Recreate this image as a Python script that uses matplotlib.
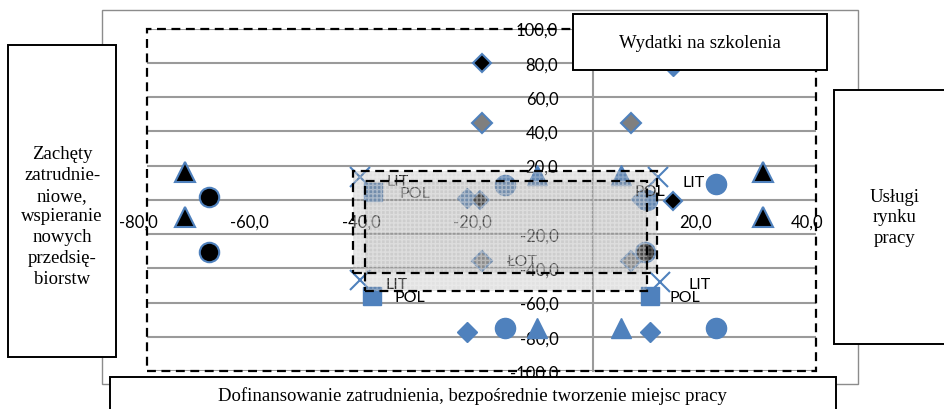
import matplotlib
matplotlib.use("Agg")
import matplotlib.pyplot as plt
from matplotlib.patches import Rectangle
from matplotlib.transforms import ScaledTranslation

# ---------------- data ----------------
xticks = [-80, -60, -40, -20, 20, 40]
xtick_labels = ["-80,0", "-60,0", "-40,0", "-20,0", "20,0", "40,0"]
yticks = [-100, -80, -60, -40, -20, 20, 40, 60, 80, 100]
ytick_labels = ["-100,0", "-80,0", "-60,0", "-40,0", "-20,0", "20,0", "40,0", "60,0", "80,0", "100,0"]

blk_dia_x = [-20.0, -20.3, 14.3]
blk_dia_y = [80.0, 0.0, -1.0]
gry_dia_x = [-20.0, 6.8, -20.0, 6.8]
gry_dia_y = [45.0, 45.0, -35.6, -35.6]
blu_dia_x = [14.3, -22.6, 8.6, -22.6, 10.2]
blu_dia_y = [78.0, 1.0, 0.5, -77.0, -77.0]
blk_cir_x = [-68.9, -68.9, 9.3]
blk_cir_y = [1.7, -30.3, -30.3]
blu_cir_x = [-15.8, 22.0, 9.6, -15.8, 22.0]
blu_cir_y = [8.7, 9.0, 0.0, -75.0, -75.0]
blk_tri_x = [-73.2, -73.2, 30.5, 30.5]
blk_tri_y = [16.3, -10.0, 16.3, -10.0]
blu_tri_x = [-10.0, 5.0, -10.0, 5.0]
blu_tri_y = [14.6, 14.6, -75.0, -75.0]
blu_sq_x = [-39.5, -39.6, 10.2]
blu_sq_y = [4.7, -56.0, -56.0]
blu_x_x = [-41.8, 11.7, -41.8, 12.0]
blu_x_y = [13.4, 13.4, -47.0, -48.0]

lbl_text = ["LIT", "POL", "POL", "LIT", "LIT", "POL", "LIT", "POL", "ŁOT"]
lbl_x = [-35.0, -32.0, 10.2, 18.0, -35.2, -32.8, 19.2, 16.5, -12.7]
lbl_y = [11.0, 4.0, 5.2, 10.5, -49.0, -56.6, -49.0, -56.6, -35.6]

# zones (x0, y0, x1, y1) in data units
zone_a = [-43.0, -43.0, 11.5, 16.9]
zone_b = [-40.9, -53.0, 9.7, 11.0]

box_texts = ["Wydatki na szkolenia",
             "Zachęty\nzatrudnie-\nniowe,\nwspieranie\nnowych\nprzedsię-\nbiorstw",
             "Usługi\nrynku\npracy",
             "Dofinansowanie zatrudnienia, bezpośrednie tworzenie miejsc pracy"]

# ---------------- figure ----------------
W, H = 944, 410
fig = plt.figure(figsize=(W / 100, H / 100), dpi=100)
fig.patch.set_facecolor("white")

def frac(x0, y0, x1, y1):
    return (x0 / W, 1 - y1 / H, (x1 - x0) / W, (y1 - y0) / H)

ax = fig.add_axes(frac(147, 29.5, 816, 372))
ax.patch.set_visible(False)
ax.set_xlim(-80, 40)
ax.set_ylim(-100, 100)
ax.set_axisbelow(True)

BLUE = "#4F81BD"
GRID = "#9a9a9a"
tick_font = dict(family=["Lato", "DejaVu Sans"], size=12)

for s in ["top", "right"]:
    ax.spines[s].set_visible(False)
ax.spines["left"].set_position(("data", 0))
ax.spines["bottom"].set_position(("data", 0))
for s in ["left", "bottom"]:
    ax.spines[s].set_color(GRID)
    ax.spines[s].set_linewidth(1.5)

ax.set_xticks(xticks)
ax.set_xticklabels(xtick_labels, **tick_font)
ax.set_yticks(yticks)
ax.set_yticklabels(ytick_labels, **tick_font)
ax.tick_params(axis="x", length=0, pad=10)
ax.tick_params(axis="y", length=0, pad=25)
off = ScaledTranslation(-9 / 100, 0, fig.dpi_scale_trans)
for lab in ax.get_xticklabels():
    lab.set_transform(lab.get_transform() + off)

ax.yaxis.grid(True, color=GRID, linewidth=1.5)
ax.xaxis.grid(False)

# markers
ax.plot(blu_dia_x, blu_dia_y, ls="none", marker="D", ms=10, mfc=BLUE, mec=BLUE, zorder=3)
ax.plot(gry_dia_x, gry_dia_y, ls="none", marker="D", ms=10, mfc="#7f7f7f", mec=BLUE, mew=1.5, zorder=3)
ax.plot(blu_cir_x, blu_cir_y, ls="none", marker="o", ms=14.5, mfc=BLUE, mec=BLUE, zorder=3)
ax.plot(blu_tri_x, blu_tri_y, ls="none", marker="^", ms=14.5, mfc=BLUE, mec=BLUE, zorder=3)
ax.plot(blu_sq_x, blu_sq_y, ls="none", marker="s", ms=13.5, mfc=BLUE, mec=BLUE, zorder=3)
ax.plot(blk_cir_x, blk_cir_y, ls="none", marker="o", ms=14, mfc="black", mec=BLUE, mew=1.5, zorder=3.2)
ax.plot(blk_tri_x, blk_tri_y, ls="none", marker="^", ms=14.5, mfc="black", mec=BLUE, mew=1.5, zorder=3.2)
ax.plot(blk_dia_x, blk_dia_y, ls="none", marker="D", ms=9.5, mfc="black", mec=BLUE, mew=1.5, zorder=3.2)
ax.plot(blu_x_x, blu_x_y, ls="none", marker="x", ms=14, mec=BLUE, mew=1.5, zorder=3.3)

for t, x, y in zip(lbl_text, lbl_x, lbl_y):
    ax.text(x, y, t, ha="center", va="center", zorder=4,
            family=["Lato", "DejaVu Sans"], size=11.5, color="black")

# shaded zones
for z in (zone_a, zone_b):
    x0, y0, x1, y1 = z
    ax.add_patch(Rectangle((x0, y0), x1 - x0, y1 - y0, facecolor=(0.6, 0.6, 0.6, 0.28),
                           edgecolor=(1, 1, 1, 0.25), hatch="++++", linewidth=0, zorder=6))
for z in (zone_a, zone_b):
    x0, y0, x1, y1 = z
    ax.add_patch(Rectangle((x0, y0), x1 - x0, y1 - y0, facecolor="none",
                           edgecolor="black", linewidth=1.6, linestyle=(0, (4, 2.5)), zorder=7))

# outer dashed frame around plot region
ax.add_patch(Rectangle((-80, -100), 120, 200, facecolor="none", edgecolor="black",
                       linewidth=1.6, linestyle=(0, (4, 2.5)), zorder=7, clip_on=False))

# chart-area frame
fig.add_artist(Rectangle(frac(102, 11, 858, 385)[:2], *frac(102, 11, 858, 385)[2:],
                         transform=fig.transFigure, facecolor="none", edgecolor="#8c8c8c",
                         linewidth=1.0, zorder=-1))

# text boxes
boxes = [(573, 15, 827, 71), (8, 46, 116, 358), (834, 91, 956, 345), (110, 378, 836, 414)]
centers = [(700, 44), (62, 217), (895, 218), (472, 396)]
for (x0, y0, x1, y1), (cx, cy), txt in zip(boxes, centers, box_texts):
    l, b, w, h = frac(x0, y0, x1, y1)
    fig.add_artist(Rectangle((l, b), w, h, transform=fig.transFigure, facecolor="white",
                             edgecolor="black", linewidth=1.4, zorder=10))
    fig.text(cx / W, 1 - cy / H, txt, ha="center", va="center", zorder=11,
             family=["Liberation Serif", "DejaVu Serif"], size=13.5, linespacing=1.3)

fig.savefig("out.png", dpi=100)
